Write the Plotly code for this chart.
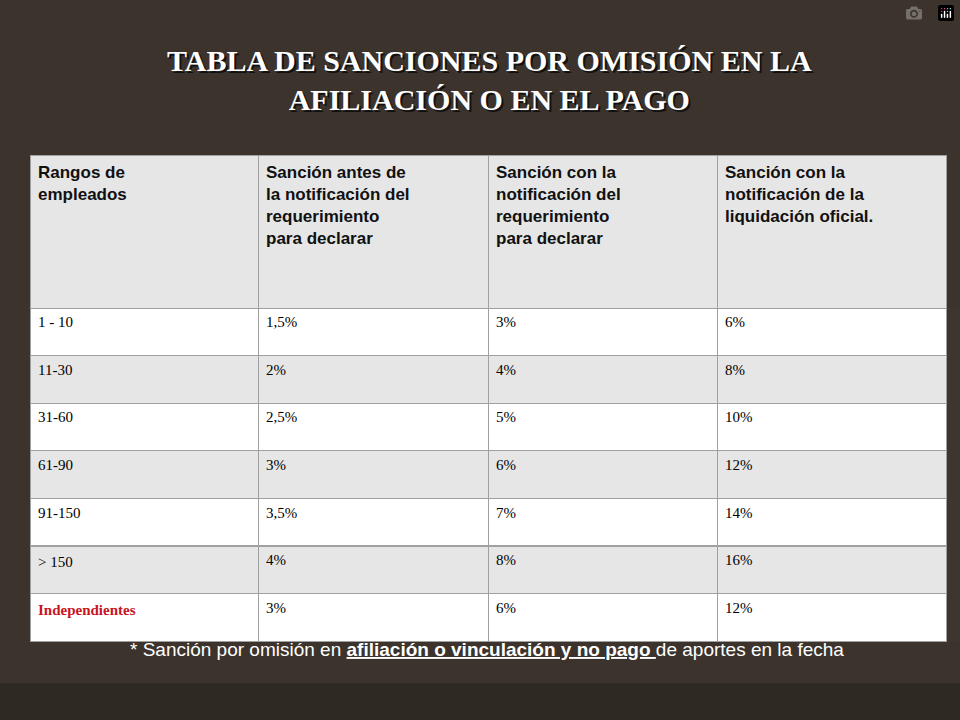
import plotly.graph_objects as go

headers = ["Rangos de<br>empleados",
           "Sanción antes de<br>la notificación del<br>requerimiento<br>para declarar",
           "Sanción con la<br>notificación del<br>requerimiento<br>para declarar",
           "Sanción con la<br>notificación de la<br>liquidación oficial."]
rangos = ["1 - 10", "11-30", "31-60", "61-90", "91-150", "> 150", "<b>Independientes</b>"]
antes = ["1,5%", "2%", "2,5%", "3%", "3,5%", "4%", "3%"]
con_req = ["3%", "4%", "5%", "6%", "7%", "8%", "6%"]
con_liq = ["6%", "8%", "10%", "12%", "14%", "16%", "12%"]

W, H = 960, 720
n = len(rangos)
fills = ["#ffffff" if i % 2 == 0 else "#e6e6e6" for i in range(n)]
first_col_colors = ["#000000"] * (n - 1) + ["#c8141e"]

fig = go.Figure(go.Table(
    domain=dict(x=[30 / W, 946 / W], y=[1 - 642 / H, 1 - 155 / H]),
    columnwidth=[228, 230, 229, 229],
    header=dict(values=["<b>%s</b>" % h for h in headers],
                fill_color="#e6e6e6", line=dict(color="#a0a0a0", width=1),
                align="left", height=153,
                font=dict(family="Liberation Sans, Arial", size=17, color="#111111")),
    cells=dict(values=[rangos, antes, con_req, con_liq],
               fill_color=[fills] * 4, line=dict(color="#a0a0a0", width=1),
               align="left", height=47.6,
               font=dict(family="Liberation Serif, Times New Roman", size=15,
                         color=[first_col_colors, ["#000"] * n, ["#000"] * n, ["#000"] * n])),
))

title = "<b>TABLA DE SANCIONES POR OMISIÓN EN LA<br>AFILIACIÓN O EN EL PAGO</b>"
fig.add_annotation(x=490 / W + 0.002, y=1 - 42 / H - 0.003, xref="paper", yref="paper",
                   yanchor="top", text=title, showarrow=False,
                   font=dict(family="Liberation Serif", size=30, color="#111111"), align="center")
fig.add_annotation(x=490 / W, y=1 - 42 / H, xref="paper", yref="paper", yanchor="top",
                   text=title, showarrow=False, font=dict(family="Liberation Serif", size=30, color="#ffffff"),
                   align="center")
fig.add_annotation(x=487 / W, y=1 - 662 / H, xref="paper", yref="paper",
                   text="* Sanción por omisión en <b><u>afiliación o vinculación y no pago </u></b>de aportes en la fecha",
                   showarrow=False, font=dict(family="Liberation Sans, Arial", size=19, color="#ffffff"))
fig.add_shape(type="rect", xref="paper", yref="paper", x0=0, x1=1, y0=0, y1=1 - 683 / H,
              fillcolor="#2f2923", line_width=0, layer="below")

fig.update_layout(width=W, height=H, margin=dict(l=0, r=0, t=0, b=0),
                  paper_bgcolor="#3b332c", plot_bgcolor="#3b332c")
fig.write_html("out.html",
               post_script="document.body.style.margin='0';document.body.style.overflow='hidden';")
